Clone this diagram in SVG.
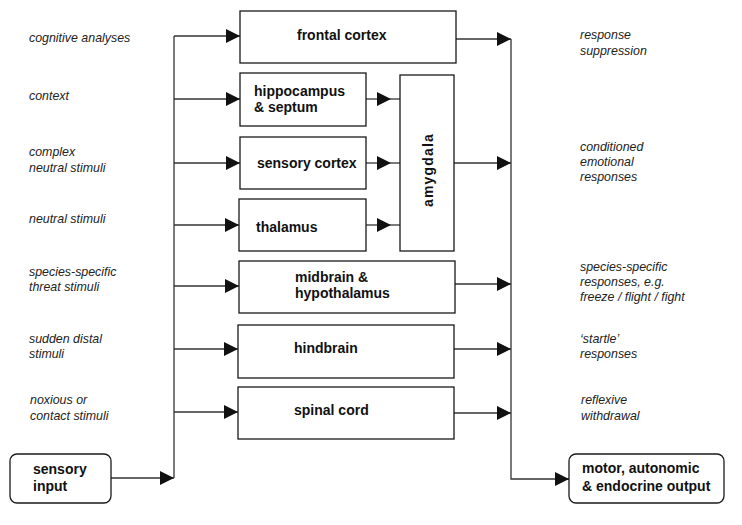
<svg xmlns="http://www.w3.org/2000/svg" width="742" height="525" viewBox="0 0 742 525">
<style>
.box{fill:#fff;stroke:#1a1a1a;stroke-width:1.3}
.rbox{fill:#fff;stroke:#1a1a1a;stroke-width:1.3}
.b{font-family:"Liberation Sans",Arial,sans-serif;font-weight:bold;font-size:14px;fill:#111}
.i{font-family:"Liberation Sans",Arial,sans-serif;font-style:italic;font-size:12.4px;fill:#222}
.c{fill:none;stroke:#333;stroke-width:1.3}
</style>
<defs>
<marker id="ah" markerUnits="userSpaceOnUse" markerWidth="14" markerHeight="14" viewBox="0 0 13 13" refX="13" refY="6.5" orient="auto">
<path d="M0,0 L13,6.5 L0,13 Z" fill="#111"/>
</marker>
</defs>
<g id="labels-left">
<text class="i" x="29" y="42">cognitive analyses</text>
<text class="i" x="29" y="100">context</text>
<text class="i" x="29" y="156">complex</text>
<text class="i" x="29" y="172">neutral stimuli</text>
<text class="i" x="29" y="223">neutral stimuli</text>
<text class="i" x="29" y="276">species-specific</text>
<text class="i" x="29" y="291">threat stimuli</text>
<text class="i" x="29" y="343">sudden distal</text>
<text class="i" x="29" y="358">stimuli</text>
<text class="i" x="30" y="404">noxious or</text>
<text class="i" x="30" y="420">contact stimuli</text>
</g>
<g id="labels-right">
<text class="i" x="580" y="39">response</text>
<text class="i" x="580" y="55">suppression</text>
<text class="i" x="580" y="151">conditioned</text>
<text class="i" x="580" y="166">emotional</text>
<text class="i" x="580" y="181">responses</text>
<text class="i" x="580" y="271">species-specific</text>
<text class="i" x="580" y="286">responses, e.g.</text>
<text class="i" x="580" y="301">freeze / flight / fight</text>
<text class="i" x="580" y="343">‘startle’</text>
<text class="i" x="580" y="358">responses</text>
<text class="i" x="581" y="404">reflexive</text>
<text class="i" x="581" y="420">withdrawal</text>
</g>
<g id="connectors">
<path class="c" d="M174,36 V478"/>
<path class="c" d="M111,478 H174" marker-end="url(#ah)"/>
<path class="c" d="M174,36 H240" marker-end="url(#ah)"/>
<path class="c" d="M174,99 H240" marker-end="url(#ah)"/>
<path class="c" d="M174,163 H240" marker-end="url(#ah)"/>
<path class="c" d="M174,225 H239" marker-end="url(#ah)"/>
<path class="c" d="M174,286 H239" marker-end="url(#ah)"/>
<path class="c" d="M174,349 H238" marker-end="url(#ah)"/>
<path class="c" d="M174,412 H238" marker-end="url(#ah)"/>
<path class="c" d="M366,99 H391" marker-end="url(#ah)"/>
<path class="c" d="M391,99 H400"/>
<path class="c" d="M366,163 H391" marker-end="url(#ah)"/>
<path class="c" d="M391,163 H400"/>
<path class="c" d="M366,225 H391" marker-end="url(#ah)"/>
<path class="c" d="M391,225 H400"/>
<path class="c" d="M511,39 V479 H569"/>
<path class="c" d="M556,479 H569" marker-end="url(#ah)"/>
<path class="c" d="M456,39 H511" marker-end="url(#ah)"/>
<path class="c" d="M454,163 H511" marker-end="url(#ah)"/>
<path class="c" d="M455,284 H511" marker-end="url(#ah)"/>
<path class="c" d="M454,349 H511" marker-end="url(#ah)"/>
<path class="c" d="M454,413 H511" marker-end="url(#ah)"/>
</g>
<g id="sensory-input">
<rect class="rbox" x="10" y="454" width="101" height="49" rx="7"/>
<text class="b" x="33" y="474">sensory</text>
<text class="b" x="33" y="491">input</text>
</g>
<g id="frontal-cortex">
<rect class="box" x="240" y="11" width="216" height="52"/>
<text class="b" x="297" y="40">frontal cortex</text>
</g>
<g id="hippocampus">
<rect class="box" x="240" y="73" width="126" height="53"/>
<text class="b" x="254" y="96">hippocampus</text>
<text class="b" x="254" y="112">&amp; septum</text>
</g>
<g id="sensory-cortex">
<rect class="box" x="240" y="137" width="126" height="52"/>
<text class="b" x="257" y="168">sensory cortex</text>
</g>
<g id="thalamus">
<rect class="box" x="239" y="199" width="127" height="52"/>
<text class="b" x="256" y="232">thalamus</text>
</g>
<g id="amygdala">
<rect class="box" x="400" y="75" width="54" height="176"/>
<text class="b" transform="translate(433,170) rotate(-90)" text-anchor="middle" letter-spacing="1.2">amygdala</text>
</g>
<g id="midbrain">
<rect class="box" x="239" y="261" width="216" height="52"/>
<text class="b" x="295" y="282">midbrain &amp;</text>
<text class="b" x="295" y="298">hypothalamus</text>
</g>
<g id="hindbrain">
<rect class="box" x="238" y="325" width="216" height="53"/>
<text class="b" x="294" y="353">hindbrain</text>
</g>
<g id="spinal-cord">
<rect class="box" x="238" y="387" width="216" height="52"/>
<text class="b" x="294" y="415">spinal cord</text>
</g>
<g id="motor-output">
<rect class="rbox" x="569" y="454" width="155" height="49" rx="7"/>
<text class="b" x="582" y="473">motor, autonomic</text>
<text class="b" x="582" y="491">&amp; endocrine output</text>
</g>
</svg>
